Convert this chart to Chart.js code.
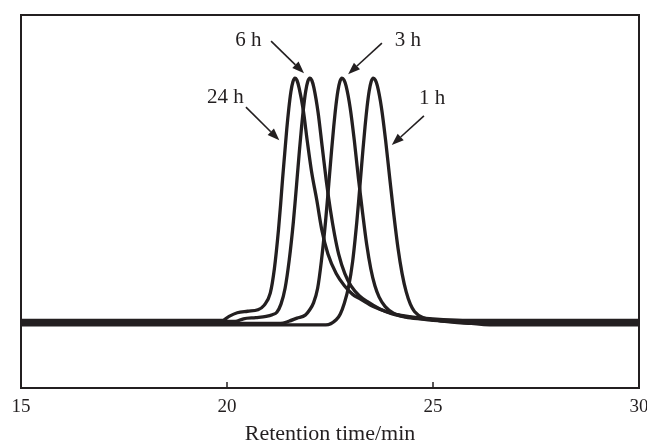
<!DOCTYPE html>
<html lang="en">
<head>
    <meta charset="UTF-8">
    <title>Retention time traces</title>
    <script src="https://cdn.jsdelivr.net/npm/chart.js"></script>
    <style>
        body {
            margin: 0;
            background-color: #fff;
        }

        #chartContainer {
            width: 647px;
            height: 442px;
        }
    </style>
</head>
<body>

    <div id="chartContainer">
        <canvas id="myChart"></canvas>
    </div>

    <script>
        // Données (temps de rétention en min, signal relatif)
        const xTicks = [15, 20, 25, 30];

        const x24h = [15, 18, 19.9, 20.05, 20.25, 20.5, 20.75, 20.9, 21.05, 21.15, 21.25, 21.3, 21.35, 21.4, 21.45, 21.5, 21.55, 21.6, 21.65, 21.7, 21.75, 21.85, 21.95, 22.05, 22.18, 22.3, 22.45, 22.65, 22.85, 23.05, 23.25, 23.55, 23.95, 24.35, 24.75, 25.25, 25.85, 26.6, 30];
        const y24h = [0.9, 0.9, 0.9, 2.5, 4.0, 4.6, 5.2, 7, 12, 22, 38, 48, 59, 69, 79, 87.5, 94.3, 98.5, 100, 99, 96, 87, 74, 62, 50, 38, 28, 20, 15, 11.5, 9.5, 6.5, 4, 2.6, 1.8, 1.2, 0.9, 0.9, 0.9];

        const x6h = [15, 18, 20.2, 20.4, 20.7, 20.95, 21.1, 21.21, 21.31, 21.41, 21.51, 21.61, 21.66, 21.71, 21.76, 21.81, 21.86, 21.91, 21.96, 22.01, 22.06, 22.11, 22.21, 22.31, 22.41, 22.51, 22.61, 22.71, 22.86, 23.01, 23.21, 23.41, 23.71, 24.01, 24.41, 24.81, 25.31, 26.0, 26.8, 30];
        const y6h = [0.3, 0.3, 0.4, 1.5, 2.0, 2.5, 3.2, 4.2, 7.5, 14, 25.5, 41, 50.6, 60.7, 70.7, 80, 88.2, 94.6, 98.6, 100, 99, 96, 86, 72, 58, 46, 36, 28, 20, 15, 11, 8.5, 5.5, 3.5, 2.2, 1.4, 0.8, 0.3, 0.3, 0.3];

        const x3h = [15, 18, 21.3, 21.5, 21.7, 21.9, 22.0, 22.1, 22.2, 22.29, 22.39, 22.44, 22.49, 22.54, 22.59, 22.64, 22.69, 22.74, 22.79, 22.84, 22.89, 22.99, 23.09, 23.19, 23.29, 23.39, 23.49, 23.59, 23.69, 23.84, 24.04, 24.34, 24.74, 25.2, 26.0, 30];
        const y3h = [-0.4, -0.4, -0.4, 0.5, 1.8, 3, 5, 8, 14, 25, 41, 50.6, 60.7, 70.7, 80, 88.2, 94.6, 98.6, 100, 99.2, 96.8, 87.8, 74.5, 59, 45, 32, 22, 15, 10.5, 6.5, 3.8, 2.2, 1.4, 0.6, -0.4, -0.4];

        const x1h = [15, 18, 20, 22.4, 22.65, 22.75, 22.85, 22.95, 23.05, 23.15, 23.2, 23.25, 23.3, 23.35, 23.4, 23.45, 23.5, 23.55, 23.6, 23.65, 23.75, 23.85, 23.95, 24.05, 24.15, 24.25, 24.35, 24.45, 24.55, 24.75, 25.05, 25.55, 26.5, 30];
        const y1h = [-1.0, -1.0, -1.0, -1.0, 1.1, 3.5, 8, 14.5, 25, 41, 50.6, 60.7, 70.7, 80, 88.2, 94.6, 98.6, 100, 99.2, 96.8, 87.8, 74.5, 59, 44, 30.5, 20, 12.5, 7.5, 4.5, 2, 1.0, 0.3, -1.0, -1.0];

        // Étiquettes et flèches : [texte, x, y, départ x, départ y, pointe x, pointe y]
        const labels = [
            ['6 h', 20.52, 115.5, 21.07, 115.1, 21.87, 102.0],
            ['3 h', 24.39, 115.5, 23.76, 114.3, 22.94, 101.6],
            ['24 h', 19.96, 92.2, 20.46, 88.1, 21.27, 74.6],
            ['1 h', 24.98, 91.8, 24.78, 84.5, 24.00, 72.6]
        ];

        const ink = '#231f20';
        const serif = "'Liberation Serif', 'DejaVu Serif', serif";

        function toPoints(xs, ys) {
            return xs.map((x, i) => ({ x: x, y: ys[i] }));
        }

        // Cadre et graduations intérieures
        const framePlugin = {
            id: 'frame',
            afterDraw(chart) {
                const ctx = chart.ctx;
                const a = chart.chartArea;
                const xs = chart.scales.x;
                ctx.save();
                ctx.strokeStyle = ink;
                ctx.lineWidth = 2;
                ctx.strokeRect(a.left, a.top, a.right - a.left, a.bottom - a.top);
                ctx.lineWidth = 1.5;
                xTicks.forEach(function (t) {
                    if (t === xs.min || t === xs.max) return;
                    const px = xs.getPixelForValue(t);
                    ctx.beginPath();
                    ctx.moveTo(px, a.bottom);
                    ctx.lineTo(px, a.bottom - 6);
                    ctx.stroke();
                });
                ctx.restore();
            }
        };

        const labelPlugin = {
            id: 'arrowLabels',
            afterDatasetsDraw(chart) {
                const ctx = chart.ctx;
                const xs = chart.scales.x;
                const ys = chart.scales.y;
                ctx.save();
                ctx.fillStyle = ink;
                ctx.strokeStyle = ink;
                ctx.font = '21px ' + serif;
                ctx.textAlign = 'center';
                ctx.textBaseline = 'middle';
                labels.forEach(function (l) {
                    ctx.fillText(l[0], xs.getPixelForValue(l[1]), ys.getPixelForValue(l[2]));
                    const x0 = xs.getPixelForValue(l[3]), y0 = ys.getPixelForValue(l[4]);
                    const x1 = xs.getPixelForValue(l[5]), y1 = ys.getPixelForValue(l[6]);
                    const ang = Math.atan2(y1 - y0, x1 - x0);
                    const hl = 12, hw = 4.5;
                    const bx = x1 - hl * Math.cos(ang), by = y1 - hl * Math.sin(ang);
                    ctx.lineWidth = 1.6;
                    ctx.beginPath();
                    ctx.moveTo(x0, y0);
                    ctx.lineTo(bx, by);
                    ctx.stroke();
                    ctx.beginPath();
                    ctx.moveTo(x1, y1);
                    ctx.lineTo(bx + hw * Math.sin(ang), by - hw * Math.cos(ang));
                    ctx.lineTo(bx - hw * Math.sin(ang), by + hw * Math.cos(ang));
                    ctx.closePath();
                    ctx.fill();
                });
                ctx.restore();
            }
        };

        const series = [
            { label: '24 h', data: toPoints(x24h, y24h) },
            { label: '6 h', data: toPoints(x6h, y6h) },
            { label: '3 h', data: toPoints(x3h, y3h) },
            { label: '1 h', data: toPoints(x1h, y1h) }
        ];

        const ctx = document.getElementById('myChart').getContext('2d');
        const chart = new Chart(ctx, {
            type: 'line',
            data: {
                datasets: series.map(s => ({
                    label: s.label,
                    data: s.data,
                    borderColor: ink,
                    borderWidth: 3.3,
                    pointRadius: 0,
                    fill: false,
                    cubicInterpolationMode: 'monotone'
                }))
            },
            options: {
                responsive: true,
                maintainAspectRatio: false,
                animation: false,
                layout: {
                    padding: { left: 21, right: 8, top: 15, bottom: 0 }
                },
                plugins: {
                    legend: { display: false },
                    tooltip: { enabled: false }
                },
                scales: {
                    x: {
                        type: 'linear',
                        min: 15,
                        max: 30,
                        afterBuildTicks: function (scale) {
                            scale.ticks = xTicks.map(v => ({ value: v }));
                        },
                        afterFit: function (scale) {
                            scale.height = 54;
                            scale.paddingLeft = 0;
                            scale.paddingRight = 0;
                        },
                        grid: { display: false, drawTicks: false },
                        border: { display: false },
                        ticks: {
                            color: ink,
                            padding: 8,
                            maxRotation: 0,
                            autoSkip: false,
                            font: { family: serif, size: 19 }
                        },
                        title: {
                            display: true,
                            text: 'Retention time/min',
                            color: ink,
                            padding: { top: 0, bottom: 0 },
                            font: { family: serif, size: 22, lineHeight: 0.7 }
                        }
                    },
                    y: {
                        display: false,
                        min: -26.8,
                        max: 125.8
                    }
                }
            },
            plugins: [framePlugin, labelPlugin]
        });
    </script>
</body>
</html>
